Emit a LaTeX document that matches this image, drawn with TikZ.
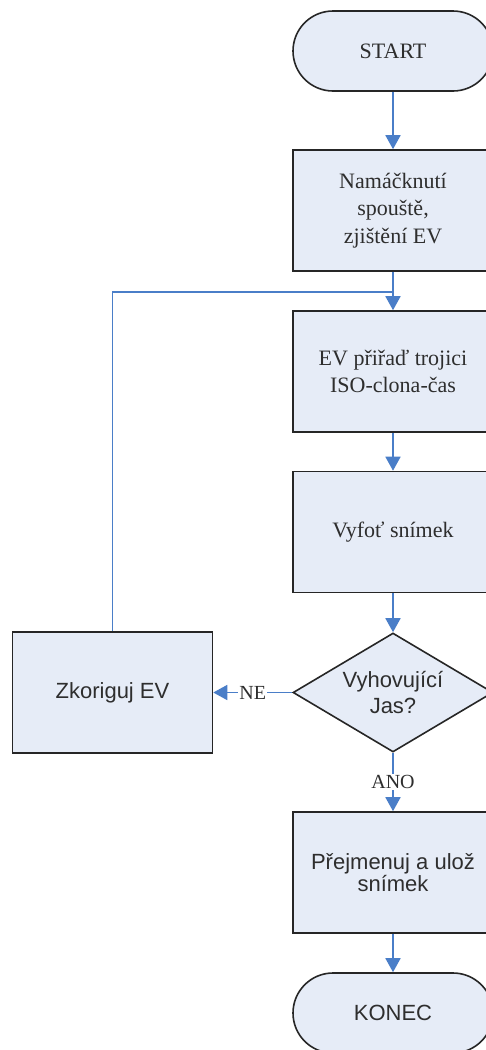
\documentclass[tikz,border=0pt]{standalone}
\usepackage{fontspec}
\setmainfont{Liberation Serif}
\newfontfamily\arialf{Liberation Sans}
\usetikzlibrary{shapes.geometric,arrows.meta}
\definecolor{boxfill}{HTML}{E6ECF7}
\definecolor{lineblue}{HTML}{4A7EC8}
\definecolor{txt}{HTML}{2E2E2E}
\tikzset{
  base/.style={draw=black!85, line width=1.6pt, fill=boxfill, text=txt, align=center, inner sep=0pt},
  procbox/.style={base, rectangle, minimum width=200pt, minimum height=121pt},
  termbox/.style={base, rectangle, rounded corners=40pt, minimum width=200pt, minimum height=80pt},
  decbox/.style={base, diamond, minimum width=200pt, minimum height=119pt, aspect=1.68},
  serif/.style={font=\fontsize{22}{27.5}\selectfont},
  sans/.style={font=\arialf\fontsize{22}{26}\selectfont},
  conn/.style={draw=lineblue, line width=1.7pt, -{Triangle[width=15pt,length=14pt]}},
  plain/.style={draw=lineblue, line width=1.7pt},
  lbl/.style={fill=white, text=txt, inner sep=1pt, font=\fontsize{20}{22}\selectfont}
}
\begin{document}
\begin{tikzpicture}[x=1pt,y=1pt]
\useasboundingbox (0,0) rectangle (486,-1050);
\clip (0,0) rectangle (486,-1050);
\node[termbox, serif] (start) at (393,-51) {START};
\node[procbox, serif] (b1) at (393,-210.5) {Namáčknutí\\spouště,\\zjištění EV};
\node[procbox, serif] (b2) at (393,-371.5) {EV přiřaď trojici\\ISO-clona-čas};
\node[procbox, serif] (b3) at (393,-532) {Vyfoť snímek};
\node[decbox, sans] (d) at (393,-692.5) {Vyhovující\\Jas?};
\node[procbox, sans] (zk) at (112.5,-692.5) {Zkoriguj EV};
\node[procbox, sans] (b4) at (393,-872.5) {Přejmenuj a ulož\\[-4pt]snímek};
\node[termbox, sans] (end) at (393,-1013) {KONEC};
\coordinate (j) at (393,-292);
\draw[conn] (start) -- (b1);
\draw[conn] (b1) -- (b2);
\draw[plain] (zk.north) |- (j);
\draw[conn] (b2) -- (b3);
\draw[conn] (b3) -- (d);
\draw[conn] (d.west) -- node[lbl] (ne) {NE} (zk.east);
\draw[conn] (d.south) -- node[lbl] (ano) {ANO} (b4.north);
\draw[conn] (b4) -- (end);
\end{tikzpicture}
\end{document}
